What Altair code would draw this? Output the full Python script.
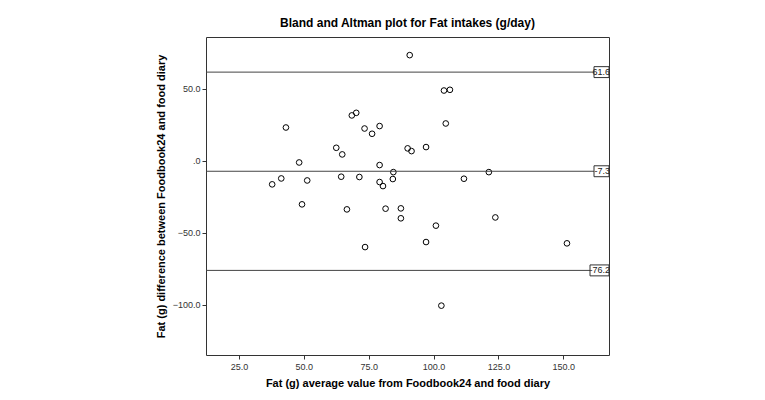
import altair as alt
import pandas as pd

# ---- data ----
avg_fat = [90.8, 104.0, 106.3, 68.5, 70.2, 43.1, 73.4, 79.2, 76.3, 104.7,
           62.5, 64.8, 90.0, 91.5, 97.1, 48.2, 79.2, 84.5, 121.3,
           37.8, 41.3, 51.3, 64.4, 71.4, 79.2, 80.5, 84.3, 111.7,
           49.3, 66.6, 81.5, 87.4, 87.4, 123.8, 100.9, 97.1, 151.4, 73.6, 103.0]
diff_fat = [73.4, 48.8, 49.3, 31.5, 33.3, 23.1, 22.4, 24.1, 18.75, 25.9,
            9.0, 4.4, 8.6, 6.7, 9.5, -1.2, -3.0, -7.9, -7.9,
            -16.4, -12.3, -13.7, -11.1, -11.3, -14.8, -17.6, -12.7, -12.5,
            -30.3, -33.8, -33.3, -33.1, -40.0, -39.4, -45.1, -56.5, -57.4, -60.0, -100.7]

ref_values = [61.6, -7.3, -76.2]
ref_labels = ["61.6", "-7.3", "-76.2"]

x_ticks = [25, 50, 75, 100, 125, 150]
y_ticks = [-100, -50, 0, 50]

X_MIN, X_MAX = 12.3, 167.6
Y_MIN, Y_MAX = -135, 86

TITLE = "Bland and Altman plot for Fat intakes (g/day)"
X_TITLE = "Fat (g) average value from Foodbook24 and food diary"
Y_TITLE = "Fat (g) difference between Foodbook24 and food diary"

W, H = 403, 318
FONT = "Liberation Sans"

pts = pd.DataFrame({"avg": avg_fat, "diff": diff_fat})
refs = pd.DataFrame({"v": ref_values, "label": ref_labels})

xs = alt.Scale(domain=[X_MIN, X_MAX], nice=False, zero=False)
ys = alt.Scale(domain=[Y_MIN, Y_MAX], nice=False, zero=False)

x_axis = alt.Axis(values=x_ticks, labelExpr="format(datum.value, '.1f')",
                  grid=False, domain=False, tickColor="#333", tickSize=4,
                  labelFont=FONT, labelFontSize=9, labelColor="#333",
                  titleFont=FONT, titleFontSize=11, titleFontWeight="bold",
                  titleColor="black", titlePadding=6, labelPadding=3)
y_axis = alt.Axis(values=y_ticks,
                  labelExpr="datum.value == 0 ? '.0' : format(datum.value, '.1f')",
                  grid=False, domain=False, tickColor="#333", tickSize=4,
                  labelFont=FONT, labelFontSize=9, labelColor="#333",
                  titleFont=FONT, titleFontSize=11, titleFontWeight="bold",
                  titleColor="black", titlePadding=6, labelPadding=2)

points = alt.Chart(pts).mark_point(
    shape="circle", filled=False, color="black", size=32, strokeWidth=1, opacity=1
).encode(
    x=alt.X("avg:Q", scale=xs, axis=x_axis, title=X_TITLE),
    y=alt.Y("diff:Q", scale=ys, axis=y_axis, title=Y_TITLE),
)

lines = alt.Chart(refs).mark_rule(color="#444", strokeWidth=1).encode(
    y=alt.Y("v:Q", scale=ys),
    x=alt.value(0), x2=alt.value(W),
)

boxes = alt.Chart(refs).transform_calculate(
    x1=f"{X_MAX} - (length(datum.label) * 4.0 - 1) / ({W} / ({X_MAX} - {X_MIN}))",
    x2=f"{X_MAX}",
    y1="datum.v + 3.8",
    y2="datum.v - 3.8",
).mark_rect(fill="white", stroke="#333", strokeWidth=1).encode(
    x=alt.X("x1:Q", scale=xs), x2="x2:Q",
    y=alt.Y("y1:Q", scale=ys), y2="y2:Q",
)

texts = alt.Chart(refs).mark_text(
    align="right", baseline="middle", font=FONT, fontSize=9, color="#222",
    dx=1, clip=True
).encode(
    x=alt.value(W), y=alt.Y("v:Q", scale=ys), text="label:N"
)

chart = alt.layer(points, lines, boxes, texts).properties(
    width=W, height=H,
    title=alt.Title(TITLE, font=FONT, fontSize=12, fontWeight="bold",
                    color="black", anchor="middle", offset=7),
    autosize=alt.AutoSizeParams(type="none"),
    padding={"left": 198, "top": 29, "right": 140, "bottom": 36},
).configure_view(stroke="#333", strokeWidth=1)

chart.save("out.html", embed_options={"renderer": "svg", "actions": False})
